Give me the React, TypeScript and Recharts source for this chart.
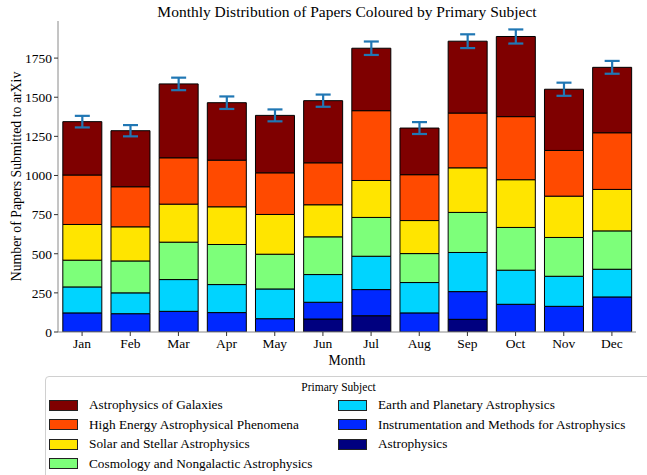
import React from "react";
import {
  BarChart, Bar, XAxis, YAxis, ErrorBar, Legend,
} from "recharts";

const months = ["Jan", "Feb", "Mar", "Apr", "May", "Jun", "Jul", "Aug", "Sep", "Oct", "Nov", "Dec"];

// stack order: bottom -> top
const astro = [0, 0, 0, 0, 0, 83, 104, 0, 81, 0, 0, 0];
const instr = [122, 117, 132, 124, 85, 107, 167, 122, 177, 177, 164, 224];
const earth = [166, 133, 203, 179, 190, 177, 213, 194, 250, 218, 192, 177];
const cosmo = [171, 204, 239, 256, 222, 241, 248, 185, 256, 273, 248, 245];
const solar = [228, 218, 243, 241, 254, 205, 236, 211, 285, 305, 264, 265];
const highE = [316, 256, 296, 298, 266, 268, 446, 293, 350, 403, 292, 362];
const galaxies = [341, 358, 472, 367, 367, 397, 399, 298, 459, 512, 391, 418];
const totalErr = [37, 36, 40, 40, 38, 39, 43, 38, 44, 45, 42, 41];

const yTicks = [0, 250, 500, 750, 1000, 1250, 1500, 1750];

const series = [
  { key: "astro", name: "Astrophysics", color: "#00007f", values: astro },
  { key: "instr", name: "Instrumentation and Methods for Astrophysics", color: "#0028ff", values: instr },
  { key: "earth", name: "Earth and Planetary Astrophysics", color: "#00d4ff", values: earth },
  { key: "cosmo", name: "Cosmology and Nongalactic Astrophysics", color: "#7dff7a", values: cosmo },
  { key: "solar", name: "Solar and Stellar Astrophysics", color: "#ffe500", values: solar },
  { key: "highE", name: "High Energy Astrophysical Phenomena", color: "#ff4a00", values: highE },
  { key: "galaxies", name: "Astrophysics of Galaxies", color: "#7f0000", values: galaxies },
];

// legend is column-major, galaxies first
const legendOrder = ["galaxies", "highE", "solar", "cosmo", "earth", "instr", "astro"];

const data = months.map((m, i) => {
  const row: Record<string, string | number> = { month: m, err: totalErr[i] };
  series.forEach((s) => { row[s.key] = s.values[i]; });
  return row;
});

const FONT = "'Liberation Serif', 'Times New Roman', serif";
const FRAME = "#8a8a8a";
const tickStyle = { fontSize: 13.5, fill: "#000", fontFamily: FONT, style: { fontFamily: FONT } };

function LegendBox() {
  return (
    <div
      style={{
        position: "relative", width: 640, height: 110, boxSizing: "border-box",
        border: "1px solid #d0d0d0", borderRadius: 4, background: "#fff", fontFamily: FONT,
      }}
    >
      <div style={{ position: "absolute", top: 3, left: 0, width: 585, textAlign: "center", fontSize: 11.5, lineHeight: "14px" }}>
        Primary Subject
      </div>
      {legendOrder.map((k, i) => {
        const s = series.find((x) => x.key === k)!;
        const col = i < 4 ? 0 : 1;
        const row = i < 4 ? i : i - 4;
        return (
          <div
            key={k}
            style={{
              position: "absolute", left: col === 0 ? 3 : 292, top: 19 + row * 19.6,
              height: 18, display: "flex", alignItems: "center", whiteSpace: "nowrap",
            }}
          >
            <span style={{ width: 27, height: 9, background: s.color, border: "1px solid #222", display: "inline-block" }} />
            <span style={{ marginLeft: 11, fontSize: 13.3, color: "#000" }}>{s.name}</span>
          </div>
        );
      })}
    </div>
  );
}

export default function App() {
  return (
    <div style={{ position: "absolute", left: 0, top: 0, width: 647, height: 475, overflow: "hidden", background: "#fff", fontFamily: FONT }}>
      <BarChart
        width={647}
        height={475}
        data={data}
        margin={{ top: 21, right: 11, left: 0, bottom: 110 }}
        barCategoryGap="10%"
        style={{ fontFamily: FONT }}
      >
        <XAxis
          dataKey="month"
          height={33}
          tickSize={4}
          tickMargin={2}
          axisLine={{ stroke: FRAME }}
          tickLine={{ stroke: "#333" }}
          tick={tickStyle}
          label={{ value: "Month", position: "insideBottom", offset: 0, fontSize: 13.8, fill: "#000", fontFamily: FONT }}
        />
        <XAxis
          xAxisId="top"
          dataKey="month"
          orientation="top"
          height={0}
          tick={false}
          tickLine={false}
          axisLine={{ stroke: FRAME }}
        />
        <YAxis
          width={58}
          domain={[0, 1987]}
          ticks={yTicks}
          allowDataOverflow
          tickSize={4}
          tickMargin={2}
          axisLine={{ stroke: FRAME }}
          tickLine={{ stroke: "#333" }}
          tick={tickStyle}
          label={{
            value: "Number of Papers Submitted to arXiv", angle: -90, position: "insideLeft", offset: 16,
            style: { textAnchor: "middle" }, fontSize: 13.8, fill: "#000", fontFamily: FONT,
          }}
        />
        <YAxis
          yAxisId="right"
          orientation="right"
          width={0}
          domain={[0, 1987]}
          tick={false}
          tickLine={false}
          axisLine={{ stroke: FRAME }}
        />
        {series.map((s) => (
          <Bar
            key={s.key}
            dataKey={s.key}
            name={s.name}
            stackId="a"
            fill={s.color}
            stroke="#000"
            strokeWidth={1}
            isAnimationActive={false}
          >
            {s.key === "galaxies" && (
              <ErrorBar dataKey="err" width={7.5} stroke="#2077b4" strokeWidth={2.2} direction="y" />
            )}
          </Bar>
        ))}
        <Legend
          layout="vertical"
          align="center"
          verticalAlign="middle"
          wrapperStyle={{ left: 45, top: 376, width: 640, height: 110 }}
          content={() => <LegendBox />}
        />
      </BarChart>
      <div
        style={{
          position: "absolute", left: 47, top: 4, width: 600, textAlign: "center",
          fontSize: 15.5, lineHeight: "16px", color: "#000", whiteSpace: "nowrap",
        }}
      >
        Monthly Distribution of Papers Coloured by Primary Subject
      </div>
    </div>
  );
}
